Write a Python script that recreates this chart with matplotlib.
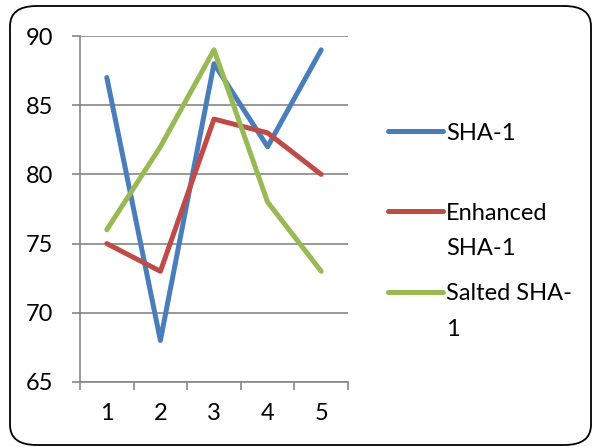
import matplotlib
matplotlib.use("Agg")
import matplotlib.pyplot as plt
from matplotlib.lines import Line2D
from matplotlib.patches import FancyBboxPatch

# Series data
categories = [1, 2, 3, 4, 5]
sha1 = [87, 68, 88, 82, 89]
enhanced_sha1 = [75, 73, 84, 83, 80]
salted_sha1 = [76, 82, 89, 78, 73]

series_names = ["SHA-1", "Enhanced\nSHA-1", "Salted SHA-\n1"]
series_colors = ["#4A7EBB", "#BE4B48", "#98B954"]

plt.rcParams["font.family"] = ["Lato", "DejaVu Sans"]
FS = 17

fig = plt.figure(figsize=(5.93, 4.47), dpi=100)
ax = fig.add_axes([80 / 593, 1 - 382 / 447, 268 / 593, 346 / 447])

for vals, col in zip([sha1, enhanced_sha1, salted_sha1], series_colors):
    ax.plot(categories, vals, color=col, lw=3.6, solid_capstyle="round",
            solid_joinstyle="round", zorder=3)

ax.set_xlim(0.5, 5.5)
ax.set_ylim(65, 90)
ax.set_yticks(range(65, 91, 5))
ax.set_xticks([c + 0.5 for c in [0] + categories])
ax.set_xticklabels([])
ax.set_xticks(categories, minor=True)
ax.set_xticklabels([str(c) for c in categories], minor=True)

grid_col = "#868686"
ax.grid(axis="y", color=grid_col, lw=1.2, zorder=1)
for s in ["top", "right"]:
    ax.spines[s].set_visible(False)
for s in ["left", "bottom"]:
    ax.spines[s].set_color(grid_col)
    ax.spines[s].set_linewidth(1.2)

ax.tick_params(axis="both", which="major", direction="out", length=6,
               width=1.2, color=grid_col, labelsize=FS, pad=4)
ax.tick_params(axis="x", which="minor", length=0, labelsize=FS, pad=15)
ax.tick_params(axis="y", pad=13)

# Legend drawn beside the plot area, one text call per wrapped line
legend_y = [131, 211, 292]
line_gap = 35
for name, col, y in zip(series_names, series_colors, legend_y):
    yf = 1 - y / 447
    fig.add_artist(Line2D([388 / 593, 443 / 593], [yf, yf], color=col, lw=3.6,
                          solid_capstyle="round", transform=fig.transFigure))
    for i, part in enumerate(name.split("\n")):
        fig.text(446 / 593, 1 - (y + 8.5 + i * line_gap) / 447, part,
                 fontsize=FS, va="baseline", ha="left",
                 transform=fig.transFigure)

# Rounded chart border
border = FancyBboxPatch((10 / 593, 2 / 447), 581 / 593, 439 / 447,
                        boxstyle="round,pad=0,rounding_size=0.045",
                        transform=fig.transFigure, fill=False,
                        edgecolor="black", lw=1.3)
fig.add_artist(border)

fig.savefig("out.png", dpi=100)
